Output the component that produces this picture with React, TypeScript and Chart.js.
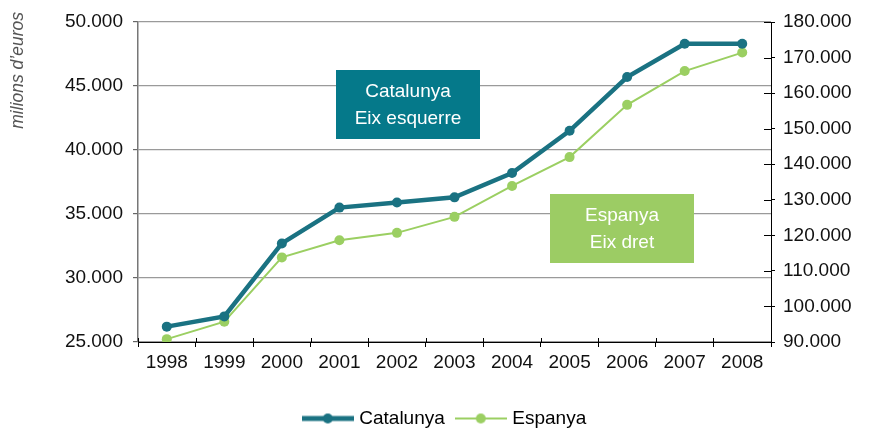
import React, { useEffect, useRef } from "react";
import { Chart, registerables } from "chart.js";

Chart.register(...registerables);

const years = ["1998", "1999", "2000", "2001", "2002", "2003", "2004", "2005", "2006", "2007", "2008"];
const catalunya = [26200, 27000, 32700, 35500, 35900, 36300, 38200, 41500, 45700, 48300, 48300];
const espanya = [90800, 95700, 113800, 118600, 120700, 125200, 133900, 142000, 156700, 166200, 171400];

const leftMin = 25000;
const leftMax = 50000;
const leftStep = 5000;
const rightMin = 90000;
const rightMax = 180000;
const rightStep = 10000;

const TEAL = "#1a7282";
const TEAL_BOX = "#05798a";
const GREEN = "#9bcf62";
const GREEN_BOX = "#9ccc64";
const FONT = "'Liberation Sans', Arial, Helvetica, sans-serif";

const fmt = (n: number) => Math.round(n).toString().replace(/\B(?=(\d{3})+(?!\d))/g, ".");

function legendImage(color: string, lineW: number): HTMLCanvasElement {
  const c = document.createElement("canvas");
  c.width = 52;
  c.height = 12;
  const ctx = c.getContext("2d")!;
  ctx.strokeStyle = color;
  ctx.lineWidth = lineW;
  ctx.beginPath();
  ctx.moveTo(0, 6);
  ctx.lineTo(52, 6);
  ctx.stroke();
  ctx.fillStyle = color;
  ctx.beginPath();
  ctx.arc(26, 6, 5, 0, Math.PI * 2);
  ctx.fill();
  return c;
}

const decorPlugin = {
  id: "decor",
  afterDraw(chart: any) {
    const ctx = chart.ctx as CanvasRenderingContext2D;
    const area = chart.chartArea;
    const yR = chart.scales.yR;
    ctx.save();
    ctx.strokeStyle = "#000";
    ctx.lineWidth = 1;
    const n = years.length;
    const step = (area.right - area.left) / n;
    for (let i = 0; i <= n; i++) {
      const px = Math.round(area.left + i * step) + 0.5;
      ctx.beginPath();
      ctx.moveTo(px, area.bottom - 4);
      ctx.lineTo(px, area.bottom);
      ctx.stroke();
    }
    yR.ticks.forEach((t: any) => {
      const py = Math.round(yR.getPixelForValue(t.value)) + 0.5;
      ctx.beginPath();
      ctx.moveTo(area.right - 7, py);
      ctx.lineTo(area.right, py);
      ctx.stroke();
    });

    ctx.save();
    ctx.translate(18, area.top - 10);
    ctx.rotate(-Math.PI / 2);
    ctx.fillStyle = "#555";
    ctx.font = `italic 17.5px ${FONT}`;
    ctx.textAlign = "right";
    ctx.textBaseline = "middle";
    ctx.fillText("milions d\u2019euros", 0, 0);
    ctx.restore();

    const boxes = [
      { l: area.left + 198, t: area.top + 48, w: 144, h: 69, fill: TEAL_BOX, lines: ["Catalunya", "Eix esquerre"] },
      { l: area.left + 412, t: area.top + 172, w: 144, h: 69, fill: GREEN_BOX, lines: ["Espanya", "Eix dret"] },
    ];
    boxes.forEach((b) => {
      ctx.fillStyle = b.fill;
      ctx.fillRect(b.l, b.t, b.w, b.h);
      ctx.fillStyle = "#fff";
      ctx.font = `19px ${FONT}`;
      ctx.textAlign = "center";
      ctx.textBaseline = "middle";
      ctx.fillText(b.lines[0], b.l + b.w / 2, b.t + 22);
      ctx.fillText(b.lines[1], b.l + b.w / 2, b.t + 49);
    });
    ctx.restore();
  },
};

const PAD_BOTTOM = -10;

export default function App() {
  const ref = useRef<HTMLCanvasElement>(null);
  useEffect(() => {
    const canvas = ref.current!;
    const catImg = legendImage(TEAL, 5);
    const espImg = legendImage(GREEN, 2);
    const chart = new Chart(canvas, {
      type: "line",
      data: {
        labels: years,
        datasets: [
          {
            label: "Catalunya",
            data: catalunya,
            yAxisID: "y",
            borderColor: TEAL,
            backgroundColor: TEAL,
            borderWidth: 4.5,
            pointRadius: 5,
            pointBackgroundColor: TEAL,
            pointBorderWidth: 0,
          },
          {
            label: "Espanya",
            data: espanya,
            yAxisID: "yR",
            borderColor: GREEN,
            backgroundColor: GREEN,
            borderWidth: 2,
            pointRadius: 5,
            pointBackgroundColor: GREEN,
            pointBorderWidth: 0,
          },
        ],
      },
      options: {
        animation: false,
        responsive: false,
        layout: { padding: { top: 22, left: 0, right: 0, bottom: PAD_BOTTOM } },
        elements: { line: { tension: 0 }, point: { pointStyle: "circle" } },
        plugins: {
          tooltip: { enabled: false },
          legend: {
            position: "bottom",
            labels: {
              font: { family: FONT, size: 19 },
              color: "#111",
              usePointStyle: true,
              pointStyleWidth: 44,
              padding: 14,
              generateLabels: () => [
                { text: "Catalunya", pointStyle: catImg, fillStyle: TEAL, strokeStyle: TEAL, lineWidth: 0, datasetIndex: 0, hidden: false } as any,
                { text: "Espanya", pointStyle: espImg, fillStyle: GREEN, strokeStyle: GREEN, lineWidth: 0, datasetIndex: 1, hidden: false } as any,
              ],
            },
          },
        },
        scales: {
          x: {
            type: "category",
            offset: true,
            grid: {
              display: true,
              offset: true,
              color: "rgba(0,0,0,0)",
              tickColor: "#000",
              tickLength: 5,
              drawOnChartArea: false,
            },
            border: { display: true, color: "#000", width: 1 },
            ticks: { font: { family: FONT, size: 19 }, color: "#111", padding: 4, maxRotation: 0, autoSkip: false },
            afterFit: (s: any) => {
              const lh = s.chart.legend ? s.chart.legend.height : 0;
              s.height = 428 - PAD_BOTTOM - 342 - lh;
            },
          },
          y: {
            position: "left",
            min: leftMin,
            max: leftMax,
            ticks: {
              stepSize: leftStep,
              font: { family: FONT, size: 19 },
              color: "#111",
              padding: 10,
              callback: (v: any) => fmt(Number(v)),
            },
            grid: { color: "#9a9a9a", tickColor: "#666", tickLength: 5, lineWidth: 1.2 },
            border: { display: true, color: "#777", width: 1.5 },
            afterFit: (s: any) => {
              s.width = 138;
            },
          },
          yR: {
            position: "right",
            min: rightMin,
            max: rightMax,
            ticks: {
              stepSize: rightStep,
              font: { family: FONT, size: 19 },
              color: "#111",
              padding: 8,
              callback: (v: any) => fmt(Number(v)),
            },
            grid: { drawOnChartArea: false, tickColor: "#000", tickLength: 4 },
            border: { display: true, color: "#000", width: 1 },
            afterFit: (s: any) => {
              s.width = 121;
            },
          },
        },
      },
      plugins: [decorPlugin],
    } as any);
    return () => chart.destroy();
  }, []);
  return (
    <div style={{ position: "absolute", left: 0, top: 0, width: 892, height: 428, background: "#fff" }}>
      <canvas ref={ref} width={892} height={428} style={{ display: "block" }} />
    </div>
  );
}
